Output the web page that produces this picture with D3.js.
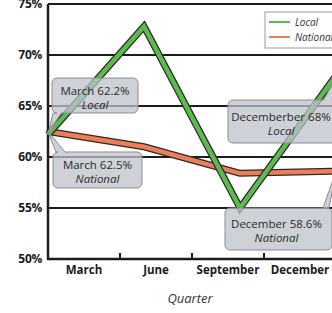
<!DOCTYPE html>
<html>
<head>
<meta charset="utf-8">
<script src="https://cdn.jsdelivr.net/npm/d3@7"></script>
<style>
  html, body { margin: 0; padding: 0; background: #fff; }
  svg { display: block; font-family: "Open Sans", sans-serif; }
</style>
</head>
<body>
<script>
const quarters = ['March', 'June', 'September', 'December'];
const localValues = [62.2, 72.8, 55.0, 68.0];
const nationalValues = [62.5, 61.0, 58.4, 58.6];
const yTicks = [50, 55, 60, 65, 70, 75];

const width = 332;
const height = 313;
const plotLeft = 48;
const plotTop = 4;
const plotBottom = 259;

const svg = d3.select('body').append('svg')
  .attr('width', width)
  .attr('height', height);

// points sit on 96px steps, labels in 72px bands (as in the picture)
const x = d3.scalePoint().domain(quarters).range([plotLeft, 336]);
const xBand = d3.scaleBand().domain(quarters).range([plotLeft, 336]);
const y = d3.scaleLinear().domain([50, 75]).range([plotBottom, plotTop]);

// gridlines
svg.append('g')
  .selectAll('line')
  .data(yTicks)
  .enter().append('line')
    .attr('x1', plotLeft)
    .attr('x2', width)
    .attr('y1', d => y(d))
    .attr('y2', d => y(d))
    .attr('stroke', '#1c1c1c')
    .attr('stroke-width', 2);

// y axis labels
svg.append('g')
  .attr('transform', `translate(${plotLeft},0)`)
  .call(d3.axisLeft(y).tickValues(yTicks).tickFormat(d => d + '%').tickSize(0).tickPadding(6))
  .call(g => g.select('.domain').remove())
  .selectAll('text')
    .attr('font-family', '"Open Sans", sans-serif')
    .attr('font-size', 12)
    .attr('font-weight', 'bold')
    .attr('letter-spacing', -0.3)
    .attr('fill', '#1a1a1a');

// x axis labels
svg.append('g')
  .attr('transform', `translate(0,${plotBottom})`)
  .call(d3.axisBottom(xBand).tickSize(0).tickPadding(7))
  .call(g => g.select('.domain').remove())
  .selectAll('text')
    .attr('font-family', '"Open Sans", sans-serif')
    .attr('font-size', 11.5)
    .attr('font-weight', 'bold')
    .attr('fill', '#1a1a1a');

// tick marks between bands
svg.append('g')
  .selectAll('line')
  .data(quarters.slice(1))
  .enter().append('line')
    .attr('x1', d => xBand(d))
    .attr('x2', d => xBand(d))
    .attr('y1', plotBottom - 6)
    .attr('y2', plotBottom)
    .attr('stroke', '#1c1c1c')
    .attr('stroke-width', 2);

// axis lines
svg.append('line')
  .attr('x1', plotLeft).attr('x2', plotLeft)
  .attr('y1', plotTop).attr('y2', plotBottom + 1)
  .attr('stroke', '#1c1c1c').attr('stroke-width', 2.5);
svg.append('line')
  .attr('x1', plotLeft - 1).attr('x2', width)
  .attr('y1', plotBottom).attr('y2', plotBottom)
  .attr('stroke', '#1c1c1c').attr('stroke-width', 2.5);

svg.append('text')
  .attr('x', 190)
  .attr('y', 303)
  .attr('text-anchor', 'middle')
  .attr('font-size', 13)
  .attr('font-style', 'italic')
  .attr('fill', '#333')
  .text('Quarter');

const line = d3.line()
  .x((d, i) => x(quarters[i]))
  .y(d => y(d));

function drawSeries(values, color) {
  svg.append('path')
    .attr('d', line(values))
    .attr('fill', 'none')
    .attr('stroke', '#2a2a2a')
    .attr('stroke-width', 7)
    .attr('stroke-linejoin', 'miter');
  svg.append('path')
    .attr('d', line(values))
    .attr('fill', 'none')
    .attr('stroke', color)
    .attr('stroke-width', 4.5)
    .attr('stroke-linejoin', 'miter');
}
drawSeries(nationalValues, '#ee7d5a');
drawSeries(localValues, '#5dba4f');

// legend
const legend = svg.append('g').attr('transform', 'translate(265,12)');
legend.append('rect')
  .attr('width', 80).attr('height', 36)
  .attr('fill', '#fff')
  .attr('stroke', '#999');
[['Local', '#5dba4f'], ['National', '#ee7d5a']].forEach((d, i) => {
  legend.append('line')
    .attr('x1', 4).attr('x2', 25)
    .attr('y1', 10 + i * 15).attr('y2', 10 + i * 15)
    .attr('stroke', d[1]).attr('stroke-width', 2);
  legend.append('text')
    .attr('x', 30).attr('y', 14 + i * 15)
    .attr('font-size', 10)
    .attr('font-style', 'italic')
    .attr('fill', '#333')
    .text(d[0]);
});

// callout box with a pointer; side is where the pointer leaves the box
function calloutPath(bx, by, w, h, side, a, b, tip) {
  const r = 5;
  const p = d3.path();
  p.moveTo(bx + r, by);
  if (side === 'top') { p.lineTo(bx + a, by); p.lineTo(tip[0], tip[1]); p.lineTo(bx + b, by); }
  p.lineTo(bx + w - r, by);
  p.arcTo(bx + w, by, bx + w, by + r, r);
  p.lineTo(bx + w, by + h - r);
  p.arcTo(bx + w, by + h, bx + w - r, by + h, r);
  if (side === 'bottom') { p.lineTo(bx + b, by + h); p.lineTo(tip[0], tip[1]); p.lineTo(bx + a, by + h); }
  p.lineTo(bx + r, by + h);
  p.arcTo(bx, by + h, bx, by + h - r, r);
  p.lineTo(bx, by + r);
  p.arcTo(bx, by, bx + r, by, r);
  p.closePath();
  return p.toString();
}

const callouts = [
  { text: 'March 62.2%', sub: 'Local', i: 0, values: localValues, bx: 52, by: 78, w: 86, h: 35, side: 'bottom', a: 1, b: 9 },
  { text: 'March 62.5%', sub: 'National', i: 0, values: nationalValues, bx: 53, by: 152, w: 89, h: 36, side: 'top', a: 3, b: 12 },
  { text: 'Decemberber 68%', sub: 'Local', i: 3, values: localValues, bx: 228, by: 100, w: 110, h: 43, side: 'top', a: 96, b: 104 },
  { text: 'December 58.6%', sub: 'National', i: 3, values: nationalValues, bx: 225, by: 208, w: 107, h: 42, side: 'top', a: 98, b: 104 },
];

callouts.forEach(c => {
  const tip = [x(quarters[c.i]), y(c.values[c.i])];
  svg.append('path')
    .attr('d', calloutPath(c.bx, c.by, c.w, c.h, c.side, c.a, c.b, tip))
    .attr('fill', 'rgba(190,194,202,0.75)')
    .attr('stroke', '#8a8d93')
    .attr('stroke-width', 1);
  svg.append('text')
    .attr('x', c.bx + c.w / 2 - (c.w > 100 ? 2 : 0))
    .attr('y', c.by + c.h / 2 - 1)
    .attr('text-anchor', 'middle')
    .attr('font-size', 11.5)
    .attr('fill', '#2a2a2a')
    .text(c.text);
  svg.append('text')
    .attr('x', c.bx + c.w / 2 - (c.w > 100 ? 2 : 0))
    .attr('y', c.by + c.h / 2 + 13)
    .attr('text-anchor', 'middle')
    .attr('font-size', 11.5)
    .attr('font-style', 'italic')
    .attr('fill', '#2a2a2a')
    .text(c.sub);
});
</script>
</body>
</html>
